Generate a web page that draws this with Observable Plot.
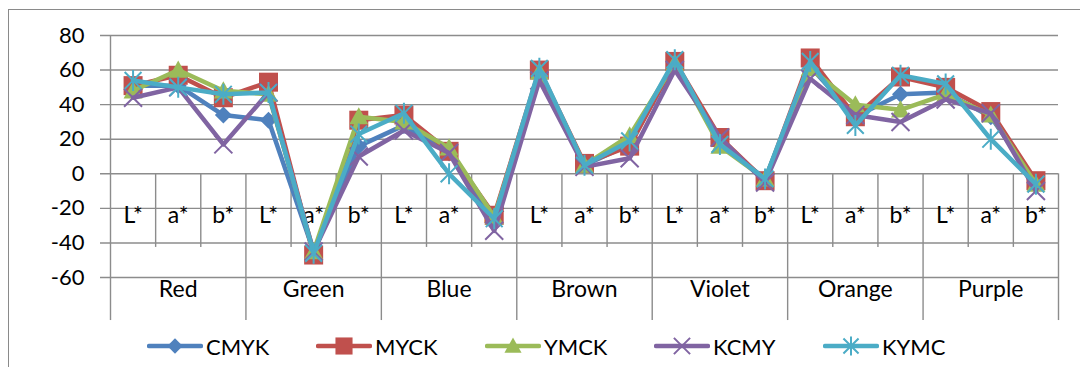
<!DOCTYPE html>
<html>
<head>
<meta charset="utf-8">
<script src="https://cdn.jsdelivr.net/npm/d3@7"></script>
<script src="https://cdn.jsdelivr.net/npm/@observablehq/plot@0.6"></script>
<style>
  body { margin: 0; background: #fff; overflow: hidden; }
  #wrap { position: relative; width: 1080px; height: 367px; font-family: Lato, "Open Sans", sans-serif; overflow: hidden; }
  #frame { position: absolute; left: 8px; top: 9px; width: 1100px; height: 400px;
           border-left: 1.5px solid #8a8a8a; border-top: 1.5px solid #8a8a8a; box-sizing: border-box; }
  #chart { position: absolute; left: 0; top: 0; }
  #legend { position: absolute; left: 0; top: 325px; width: 1080px; height: 42px; }
  .item { position: absolute; top: 0; height: 42px; display: flex; align-items: center; font-size: 22px; color: #000; }
  .item svg { display: block; }
  .item span { margin-left: 3px; }
</style>
</head>
<body>
<div id="wrap">
  <div id="frame"></div>
  <div id="chart"></div>
  <div id="legend"></div>
</div>
<script>
// Colour samples and their CIELAB components
const groups = ["Red", "Green", "Blue", "Brown", "Violet", "Orange", "Purple"];
const components = ["L*", "a*", "b*"];

// Print orders (series)
const series = ["CMYK", "MYCK", "YMCK", "KCMY", "KYMC"];
const colors = ["#4f81bd", "#c0504d", "#9bbb59", "#8064a2", "#4bacc6"];

// Values per sample, in order L*, a*, b* for each colour group
const cmyk = [51, 51, 34,  31, -45, 16,  28, 12, -27,  59, 5, 17,  64, 18, -3,  62, 33, 46,  47, 33, -5];
const myck = [51, 57, 44,  53, -47, 31,  34, 13, -24,  60, 6, 16,  65, 21, -4,  67, 33, 56,  50, 36, -4];
const ymck = [48, 60, 48,  46, -45, 33,  30, 15, -25,  59, 5, 22,  64, 16, -3,  61, 40, 37,  46, 34, -6];
const kcmy = [44, 50, 17,  47, -45, 10,  25, 12, -33,  54, 4,  9,  60, 21, -5,  55, 34, 30,  43, 35, -10];
const kymc = [54, 50, 46,  47, -46, 23,  35,  0, -26,  61, 5, 19,  66, 17, -3,  65, 28, 57,  52, 20, -6];
const values = [cmyk, myck, ymck, kcmy, kymc];

const yTicks = [-60, -40, -20, 0, 20, 40, 60, 80];

// Depth (in value units) of the two rows of the category axis below zero
const innerDepth = -42.6;
const groupDepth = -84.9;

const gridColor = "#8c8c8c";

// Marker shapes in the style of spreadsheet charts; r is the half-extent
const radius = size => Math.sqrt(size / Math.PI);
const shapes = [
  { draw(c, s) { const r = radius(s); c.moveTo(0, -r); c.lineTo(r, 0); c.lineTo(0, r); c.lineTo(-r, 0); c.closePath(); } },
  { draw(c, s) { const r = radius(s); c.moveTo(-r, -r); c.lineTo(r, -r); c.lineTo(r, r); c.lineTo(-r, r); c.closePath(); } },
  { draw(c, s) { const r = radius(s); c.moveTo(0, -r); c.lineTo(r, r * 0.8); c.lineTo(-r, r * 0.8); c.closePath(); } },
  { draw(c, s) { const r = radius(s); c.moveTo(-r, -r); c.lineTo(r, r); c.moveTo(r, -r); c.lineTo(-r, r); } },
  { draw(c, s) { const r = radius(s); c.moveTo(-r * 0.8, -r * 0.8); c.lineTo(r * 0.8, r * 0.8);
                 c.moveTo(r * 0.8, -r * 0.8); c.lineTo(-r * 0.8, r * 0.8); c.moveTo(0, -r); c.lineTo(0, r); } }
];
const sizes = [8.5, 9.5, 9.5, 9, 10.5];
const filled = [true, true, true, false, false];

// Category slots: one per component of each colour group
const slots = groups.flatMap((g, gi) => components.map((c, ci) => ({ group: g, comp: c, i: gi * 3 + ci })));
const boundaries = d3.range(0, slots.length + 1);

const seriesMarks = series.flatMap((name, k) => {
  const rows = values[k].map((v, i) => ({ name, pos: i + 0.5, v }));
  return [
    Plot.line(rows, { x: "pos", y: "v", stroke: colors[k], strokeWidth: 4.5, strokeLinejoin: "round", strokeLinecap: "round" }),
    Plot.dot(rows, {
      x: "pos", y: "v", r: sizes[k], symbol: shapes[k],
      fill: filled[k] ? colors[k] : "none",
      stroke: filled[k] ? "none" : colors[k],
      strokeWidth: 2
    })
  ];
});

const chart = Plot.plot({
  width: 1080,
  height: 325,
  marginLeft: 110,
  marginRight: 22,
  marginTop: 35,
  marginBottom: 48,
  style: { fontFamily: "Lato, 'Open Sans', sans-serif", fontSize: "22px", background: "transparent", color: "#000", overflow: "visible" },
  x: { domain: [0, slots.length], axis: null },
  y: { domain: [-60, 80], axis: null },
  marks: [
    // horizontal gridlines with their short ticks to the left
    Plot.ruleY(yTicks, { x1: 0, x2: slots.length, insetLeft: -10, stroke: gridColor, strokeWidth: 1.4 }),
    // value axis line
    Plot.ruleX([0], { y1: 80, y2: 0, stroke: gridColor, strokeWidth: 1.4 }),
    // category axis separators: short ones between components, long ones between groups
    Plot.ruleX(boundaries, {
      x: d => d, y1: 0, y2: d => (d % 3 === 0 ? groupDepth : innerDepth),
      stroke: gridColor, strokeWidth: 1.4
    }),
    Plot.axisY(yTicks, { tickSize: 0, tickPadding: 26, tickFormat: d => String(d), label: null, fill: "#000" }),
    Plot.text(slots, { x: d => d.i + 0.5, y: 0, text: "comp", dy: 42, fontSize: 23, fill: "#000" }),
    Plot.text(groups, { x: (d, gi) => gi * 3 + 1.5, y: 0, text: d => d, dy: 116, fontSize: 23, fill: "#000" }),
    ...seriesMarks
  ]
});
document.getElementById("chart").appendChild(chart);

// Legend below the plot
const legend = d3.select("#legend");
series.forEach((name, k) => {
  const item = legend.append("div").attr("class", "item").style("left", (147 + 169 * k) + "px");
  const svg = item.append("svg").attr("width", 56).attr("height", 24);
  svg.append("line").attr("x1", 2).attr("x2", 54).attr("y1", 12).attr("y2", 12)
    .attr("stroke", colors[k]).attr("stroke-width", 4.5).attr("stroke-linecap", "round");
  const p = d3.path();
  const r = sizes[k] * 0.9;
  shapes[k].draw(p, r * r * Math.PI);
  svg.append("path").attr("d", p.toString()).attr("transform", "translate(28,12)")
    .attr("fill", filled[k] ? colors[k] : "none")
    .attr("stroke", filled[k] ? "none" : colors[k])
    .attr("stroke-width", 2);
  item.append("span").text(name);
});
</script>
</body>
</html>
